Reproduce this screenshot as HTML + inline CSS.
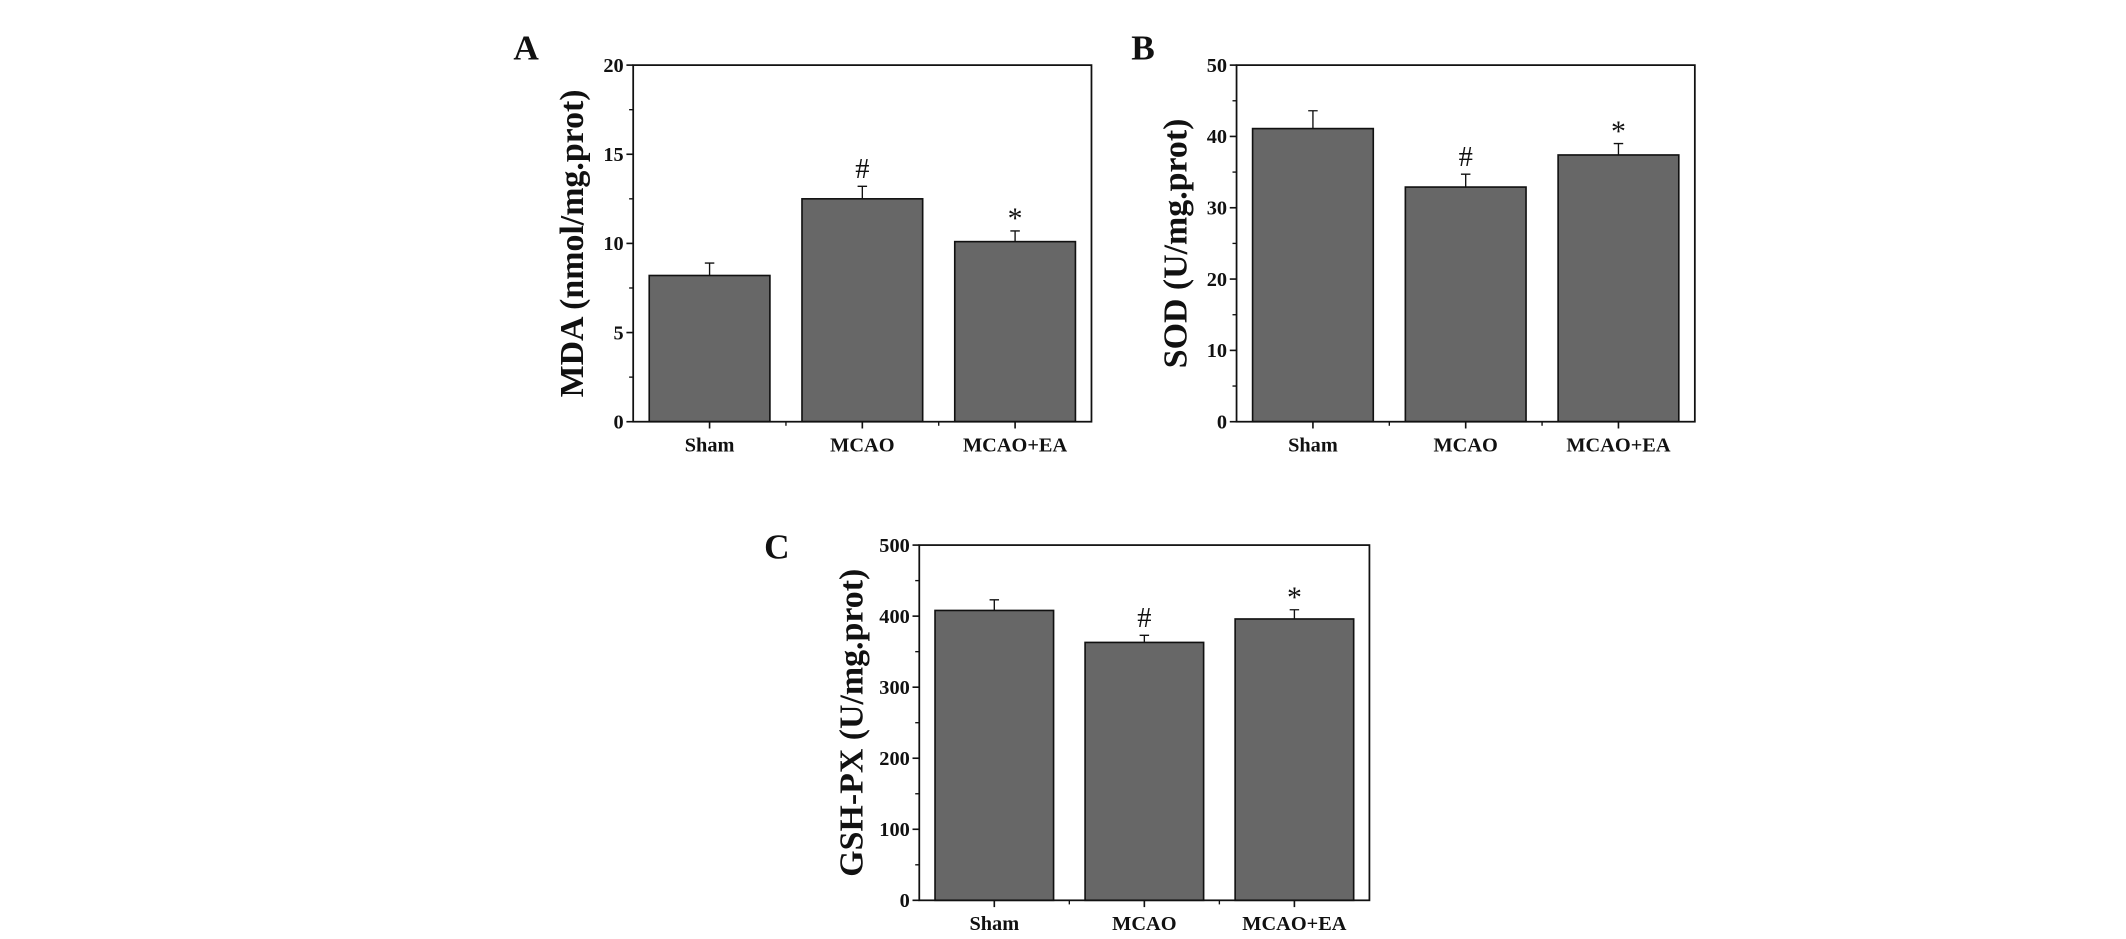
<!DOCTYPE html>
<html><head><meta charset="utf-8"><style>
html,body{margin:0;padding:0;background:#fff}
svg{display:block}
text{font-family:"Liberation Serif",serif;font-weight:bold;fill:#111}
</style></head><body>
<svg id="fig" width="2126" height="939" viewBox="0 0 1568 692.5" xmlns="http://www.w3.org/2000/svg"></svg>
<script>
const categories = ["Sham","MCAO","MCAO+EA"];
const mdaValues = [8.2, 12.5, 10.1];
const mdaErrors = [0.7, 0.7, 0.6];
const sodValues = [41.1, 32.9, 37.4];
const sodErrors = [2.5, 1.8, 1.6];
const gshValues = [408, 363, 396];
const gshErrors = [15, 10, 13];
const mdaTicks = [0, 5, 10, 15, 20];
const sodTicks = [0, 10, 20, 30, 40, 50];
const gshTicks = [0, 100, 200, 300, 400, 500];
const mdaMarks = ["", "#", "*"];
const sodMarks = ["", "#", "*"];
const gshMarks = ["", "#", "*"];

const NS = "http://www.w3.org/2000/svg";
const svg = document.getElementById("fig");
function mk(tag, attrs, parent, txt){
  const e = document.createElementNS(NS, tag);
  for (const k in attrs) e.setAttribute(k, attrs[k]);
  if (txt !== undefined) e.textContent = txt;
  (parent || svg).appendChild(e);
  return e;
}

function panel(cfg){
  const g = mk("g", {});
  
  
  const {L,R,T,B} = cfg;
  const ymax = cfg.ticks[cfg.ticks.length-1];
  const y = v => B - (v/ymax)*(B-T);
  const cw = (R-L)/categories.length;
  const xc = i => L + cw*(i+0.5);
  const bw = cw*0.79;
  categories.forEach((c,i)=>{
    const bar = mk("rect",{x:xc(i)-bw/2,y:y(cfg.values[i]),width:bw,height:B-y(cfg.values[i]),fill:"#676767",stroke:"#111","stroke-width":1.2},g);
    
    
    const top = y(cfg.values[i]+cfg.errors[i]);
    const eb = mk("path",{d:`M${xc(i)} ${y(cfg.values[i])}V${top}M${xc(i)-3.5} ${top}H${xc(i)+3.5}`,stroke:"#111","stroke-width":1,fill:"none"},g);
    
    
    if (cfg.marks[i]) {
      const m = mk("text",{x:xc(i),y:top-(cfg.marks[i]==="#"?6:2),"text-anchor":"middle","font-size":cfg.marks[i]==="#"?21:22,style:"font-weight:normal"},g,cfg.marks[i]);
      
      
    }
    const lab = mk("text",{x:xc(i),y:B+22,"text-anchor":"middle","font-size":15},g,c);
    
    
    mk("line",{x1:xc(i),x2:xc(i),y1:B,y2:B+5,stroke:"#111","stroke-width":1.2},g);
  });
  for (let i=1;i<categories.length;i++) mk("line",{x1:L+cw*i,x2:L+cw*i,y1:B,y2:B+3,stroke:"#111","stroke-width":1},g);
  const fr = mk("rect",{x:L,y:T,width:R-L,height:B-T,fill:"none",stroke:"#111","stroke-width":1.3},g);
  
  
  cfg.ticks.forEach((t,k)=>{
    mk("line",{x1:L-5,x2:L,y1:y(t),y2:y(t),stroke:"#111","stroke-width":1.2},g);
    const tl = mk("text",{x:L-7,y:y(t)+5,"text-anchor":"end","font-size":15},g,t);
    
    
    if (k < cfg.ticks.length-1) {
      const mv = (t + cfg.ticks[k+1])/2;
      mk("line",{x1:L-3,x2:L,y1:y(mv),y2:y(mv),stroke:"#111","stroke-width":1},g);
    }
  });
  const yt = mk("text",{x:0,y:0,"text-anchor":"middle","font-size":25,transform:`translate(${cfg.titleX},${(T+B)/2}) rotate(-90)`},g,cfg.title);
  
  
  const pl = mk("text",{x:cfg.letterX,y:cfg.letterY,"text-anchor":"middle","font-size":26},g,cfg.letter);
  
  
}

panel({name:"panel-a-mda",L:467,R:805,T:48,B:311,values:mdaValues,errors:mdaErrors,ticks:mdaTicks,marks:mdaMarks,title:"MDA (nmol/mg.prot)",titleX:430,letter:"A",letterX:388,letterY:44});
panel({name:"panel-b-sod",L:912,R:1250,T:48,B:311,values:sodValues,errors:sodErrors,ticks:sodTicks,marks:sodMarks,title:"SOD (U/mg.prot)",titleX:875,letter:"B",letterX:843,letterY:44});
panel({name:"panel-c-gsh-px",L:678,R:1010,T:402,B:664,values:gshValues,errors:gshErrors,ticks:gshTicks,marks:gshMarks,title:"GSH-PX (U/mg.prot)",titleX:636,letter:"C",letterX:573,letterY:412});
</script>
</body></html>
